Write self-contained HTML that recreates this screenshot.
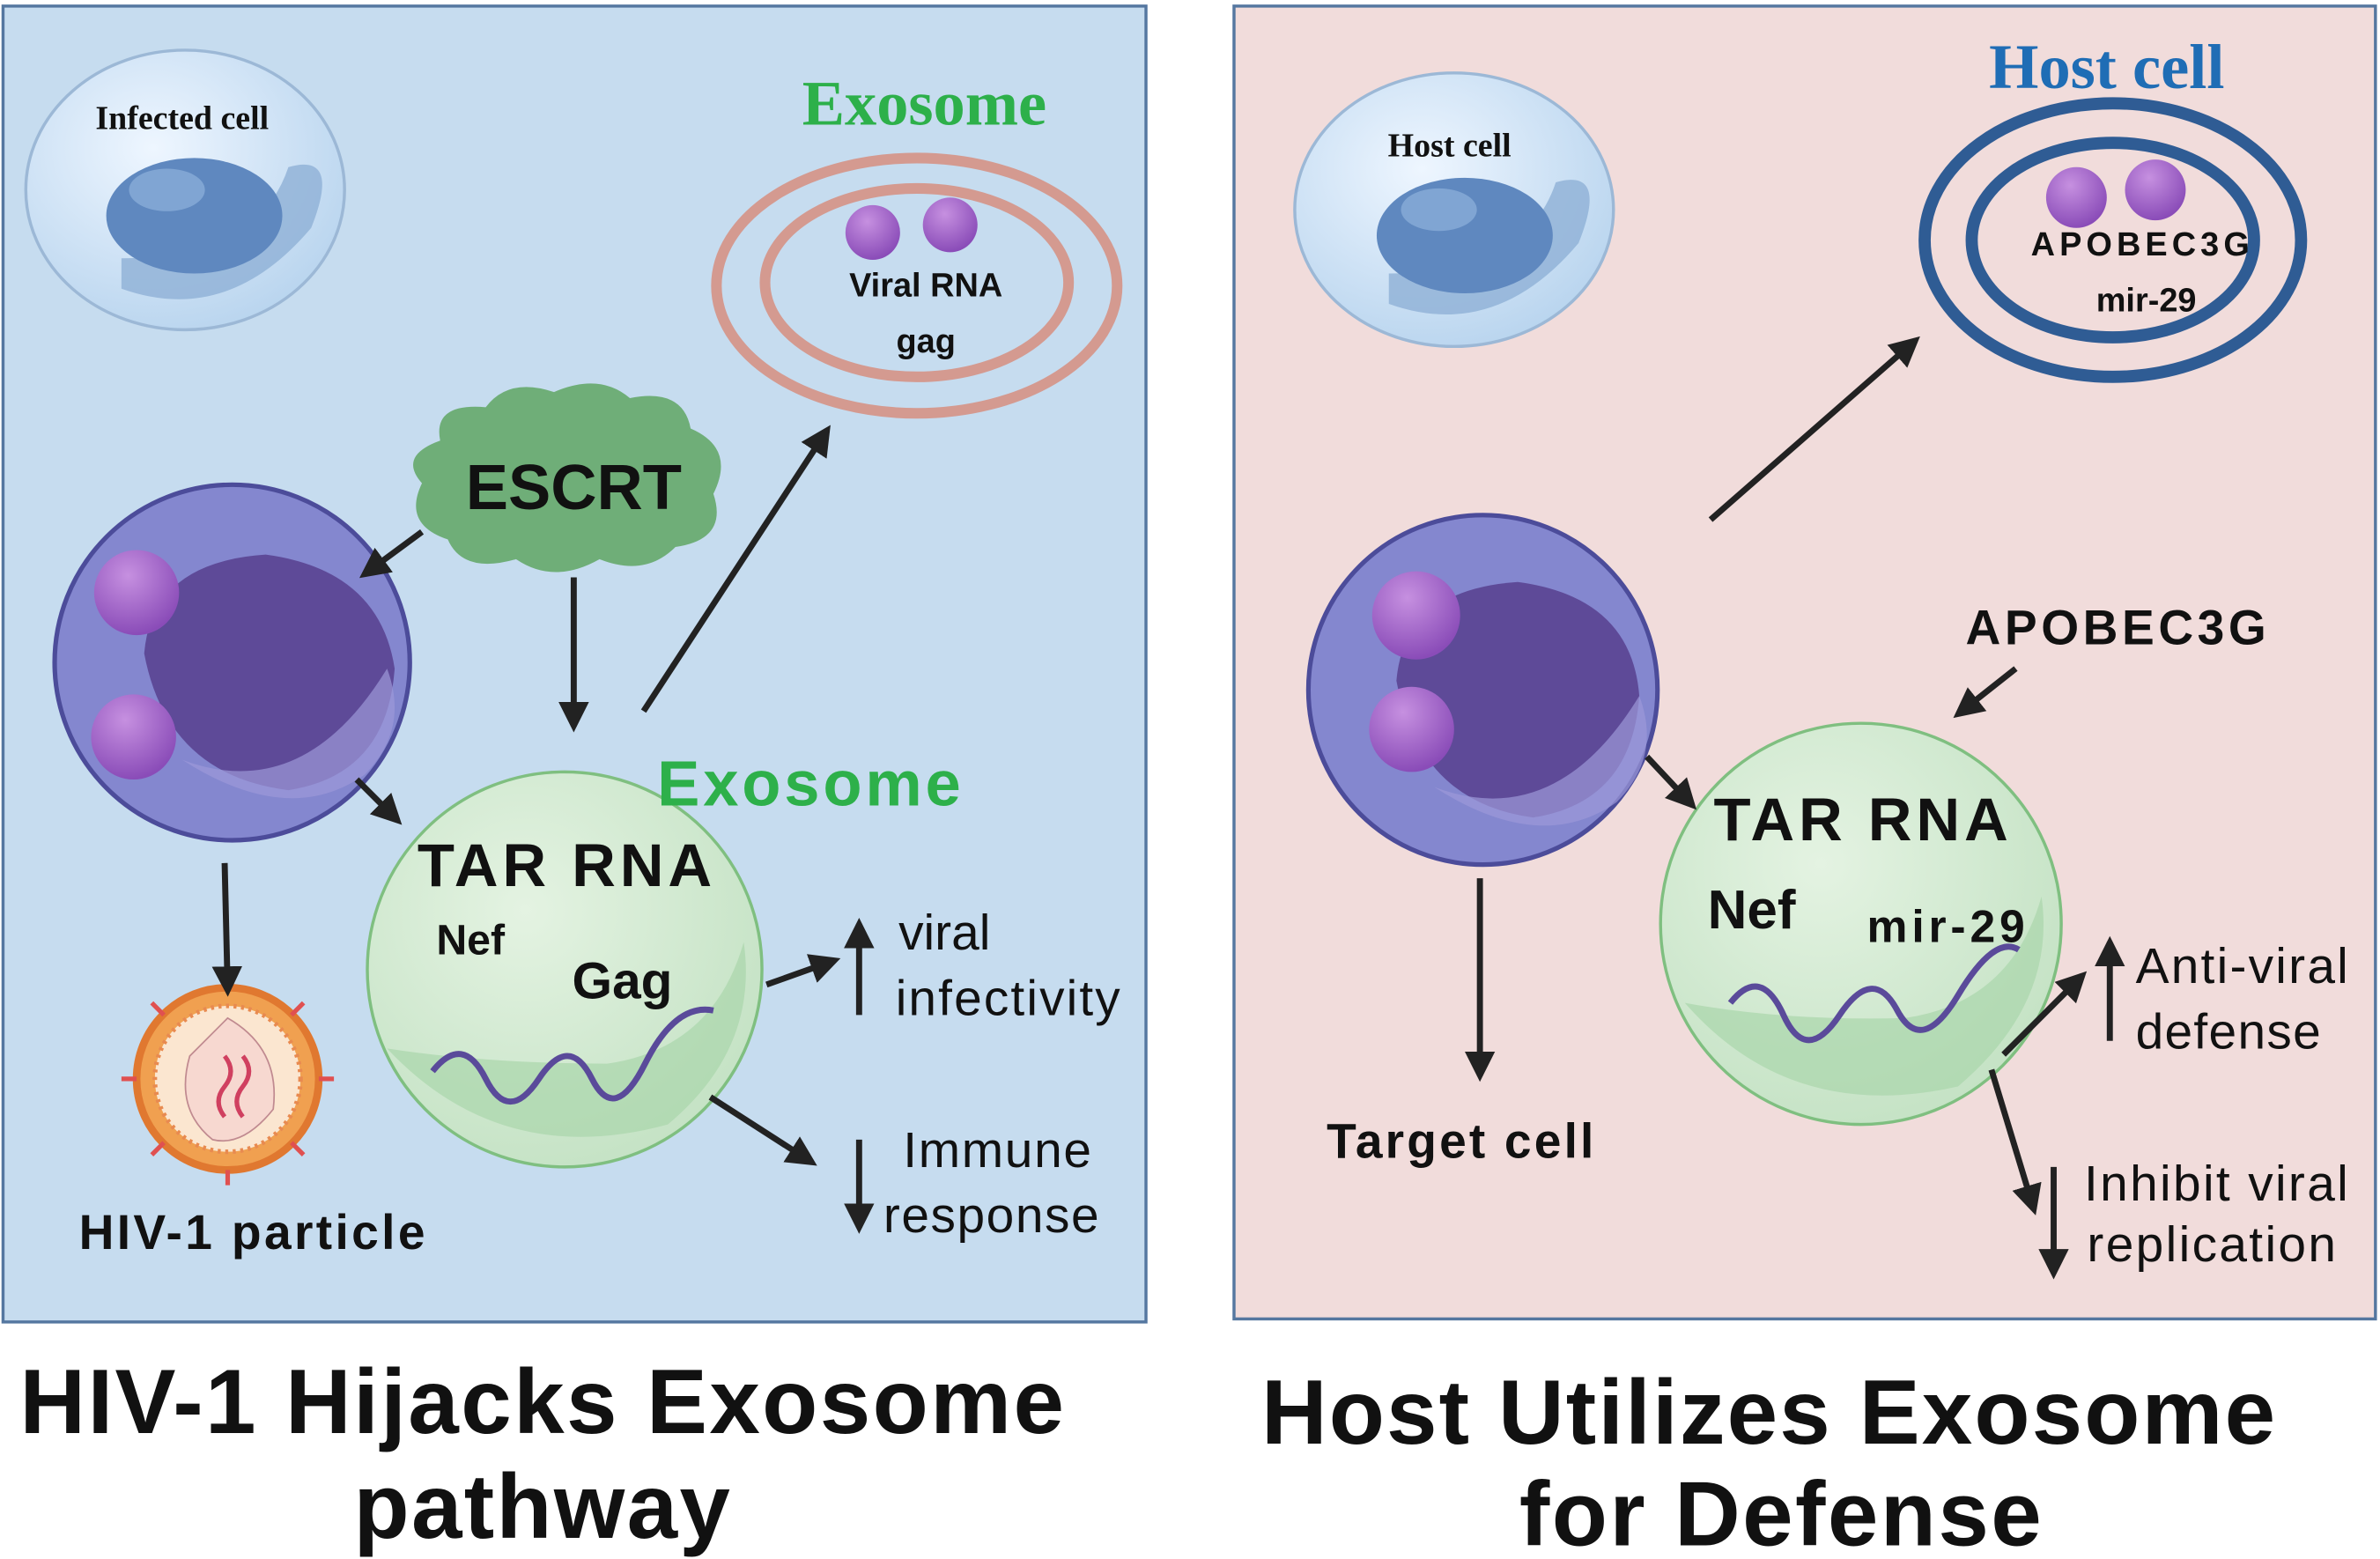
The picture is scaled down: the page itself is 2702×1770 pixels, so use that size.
<!DOCTYPE html>
<html><head><meta charset="utf-8"><style>
html,body{margin:0;padding:0;background:#fff}
svg{display:block}
</style></head><body>
<svg width="2702" height="1770" viewBox="0 0 1568 1026" preserveAspectRatio="none" xmlns="http://www.w3.org/2000/svg" font-family="Liberation Sans, Arial, sans-serif">
<defs>
<marker id="ar" viewBox="0 0 10 10" refX="8" refY="5" markerWidth="5" markerHeight="5" orient="auto"><path d="M0,0 L10,5 L0,10 z" fill="#222"/></marker>
<radialGradient id="gb" cx="0.4" cy="0.35" r="0.7"><stop offset="0" stop-color="#eef6ff"/><stop offset="1" stop-color="#b8d4ee"/></radialGradient>
<radialGradient id="gg" cx="0.4" cy="0.35" r="0.7"><stop offset="0" stop-color="#e4f3e2"/><stop offset="1" stop-color="#c4e2c4"/></radialGradient>
<radialGradient id="gp" cx="0.4" cy="0.3" r="0.7"><stop offset="0" stop-color="#c690e0"/><stop offset="1" stop-color="#8a4cb8"/></radialGradient>
</defs>
<rect x="0" y="0" width="1568" height="1026" fill="#fff"/>
<rect x="2" y="4" width="753" height="866" fill="#c6dcef" stroke="#5577a0" stroke-width="2"/>
<rect x="813" y="4" width="752" height="864" fill="#f1dcdb" stroke="#5577a0" stroke-width="2"/>

<!-- Infected cell -->
<ellipse cx="122" cy="125" rx="105" ry="92" fill="url(#gb)" stroke="#9cb8d6" stroke-width="2"/>
<path d="M80,190 Q150,215 205,150 Q225,100 190,110 Q170,170 80,170z" fill="#8fb0d6" opacity="0.8"/>
<ellipse cx="128" cy="142" rx="58" ry="38" fill="#5f88bf"/>
<ellipse cx="110" cy="125" rx="25" ry="14" fill="#8fb2dc" opacity="0.7"/>
<text x="120" y="85" font-family="Liberation Serif, serif" font-weight="bold" font-size="22" text-anchor="middle" fill="#111">Infected cell</text>

<!-- Exosome left top -->
<ellipse cx="604" cy="188" rx="132" ry="84" fill="none" stroke="#d49a90" stroke-width="7"/>
<ellipse cx="604" cy="186" rx="100" ry="62" fill="none" stroke="#d49a90" stroke-width="7"/>
<circle cx="575" cy="153" r="18" fill="url(#gp)"/>
<circle cx="626" cy="148" r="18" fill="url(#gp)"/>
<text x="610" y="195" font-weight="bold" font-size="22" text-anchor="middle" fill="#111">Viral RNA</text>
<text x="610" y="232" font-weight="bold" font-size="22" text-anchor="middle" fill="#111">gag</text>
<text x="609" y="82" font-family="Liberation Serif, serif" font-weight="bold" font-size="42" text-anchor="middle" fill="#2db04a">Exosome</text>

<!-- ESCRT cloud -->
<path d="M290,290 Q285,265 320,268 Q335,248 365,258 Q395,245 415,262 Q450,255 455,282 Q485,295 470,325 Q480,355 445,360 Q425,380 395,368 Q365,385 340,368 Q305,378 295,355 Q265,345 278,318 Q262,300 290,290z" fill="#6fae78"/>
<text x="378" y="335" font-weight="bold" font-size="42" text-anchor="middle" fill="#111">ESCRT</text>

<!-- left big cell -->
<circle cx="153" cy="436" r="117" fill="#8487cf" stroke="#4c4c9a" stroke-width="3"/>
<path d="M95,430 Q100,370 175,365 Q250,375 260,440 Q255,510 190,520 Q110,510 95,430z" fill="#5e4a98"/>
<path d="M120,500 Q200,530 255,440 Q270,480 240,510 Q190,545 120,500z" fill="#9c98d8" opacity="0.7"/>
<circle cx="90" cy="390" r="28" fill="url(#gp)"/>
<circle cx="88" cy="485" r="28" fill="url(#gp)"/>

<!-- HIV particle -->
<circle cx="150" cy="710" r="60" fill="#f0a050" stroke="#e07830" stroke-width="5"/>
<circle cx="150" cy="710" r="48" fill="#fbe6d0" stroke="#e88a50" stroke-width="3" stroke-dasharray="2,3"/>
<path d="M150,670 Q185,690 180,730 Q160,755 140,750 Q115,730 125,695z" fill="#f7d8d0" stroke="#c08a90"/>
<path d="M148,695 q8,10 0,20 q-8,10 0,20 M160,695 q8,10 0,20 q-8,10 0,20" stroke="#d04060" stroke-width="3" fill="none"/>
<g stroke="#e05050" stroke-width="3">
<line x1="150" y1="650" x2="150" y2="640"/><line x1="150" y1="770" x2="150" y2="780"/><line x1="90" y1="710" x2="80" y2="710"/><line x1="210" y1="710" x2="220" y2="710"/>
<line x1="108" y1="668" x2="100" y2="660"/><line x1="192" y1="668" x2="200" y2="660"/><line x1="108" y1="752" x2="100" y2="760"/><line x1="192" y1="752" x2="200" y2="760"/>
</g>
<text x="166" y="822" font-weight="bold" font-size="32" text-anchor="middle" fill="#111" textLength="228">HIV-1 particle</text>

<!-- left exosome green -->
<circle cx="372" cy="638" r="130" fill="url(#gg)" stroke="#7fbf80" stroke-width="2"/>
<path d="M255,690 Q330,770 440,740 Q500,690 490,620 Q470,690 400,700 Q320,700 255,690z" fill="#a9d6ab" opacity="0.7"/>
<path d="M285,705 Q305,680 320,710 T355,710 T390,710 T425,700 T470,665" stroke="#5a4a9a" stroke-width="4" fill="none"/>
<text x="372" y="583" font-weight="bold" font-size="40" text-anchor="middle" fill="#111" textLength="194">TAR RNA</text>
<text x="310" y="628" font-weight="bold" font-size="28" text-anchor="middle" fill="#111">Nef</text>
<text x="410" y="657" font-weight="bold" font-size="34" text-anchor="middle" fill="#111">Gag</text>
<text x="533" y="530" font-weight="bold" font-size="42" text-anchor="middle" fill="#2db04a" textLength="200">Exosome</text>

<g stroke="#222" stroke-width="4" fill="none" marker-end="url(#ar)">
<line x1="278" y1="350" x2="240" y2="378"/>
<line x1="378" y1="380" x2="378" y2="478"/>
<line x1="424" y1="468" x2="545" y2="283"/>
<line x1="235" y1="513" x2="262" y2="540"/>
<line x1="148" y1="568" x2="150" y2="652"/>
<line x1="505" y1="648" x2="550" y2="632"/>
<line x1="468" y1="722" x2="535" y2="765"/>
<line x1="566" y1="668" x2="566" y2="608"/>
<line x1="566" y1="750" x2="566" y2="808"/>
</g>
<text x="592" y="625" font-size="33" fill="#111">viral</text>
<text x="590" y="668" font-size="33" fill="#111" textLength="148">infectivity</text>
<text x="595" y="768" font-size="33" fill="#111" textLength="124">Immune</text>
<text x="582" y="811" font-size="33" fill="#111" textLength="142">response</text>

<!-- RIGHT: Host cell small -->
<ellipse cx="958" cy="138" rx="105" ry="90" fill="url(#gb)" stroke="#9cb8d6" stroke-width="2"/>
<path d="M915,200 Q985,225 1040,160 Q1060,110 1025,120 Q1005,180 915,180z" fill="#8fb0d6" opacity="0.8"/>
<ellipse cx="965" cy="155" rx="58" ry="38" fill="#5f88bf"/>
<ellipse cx="948" cy="138" rx="25" ry="14" fill="#8fb2dc" opacity="0.7"/>
<text x="955" y="103" font-family="Liberation Serif, serif" font-weight="bold" font-size="22" text-anchor="middle" fill="#111">Host cell</text>

<text x="1388" y="58" font-family="Liberation Serif, serif" font-weight="bold" font-size="42" text-anchor="middle" fill="#1f6db5">Host cell</text>
<ellipse cx="1392" cy="158" rx="124" ry="90" fill="none" stroke="#2f5c94" stroke-width="8"/>
<ellipse cx="1392" cy="158" rx="93" ry="64" fill="none" stroke="#2f5c94" stroke-width="8"/>
<circle cx="1368" cy="130" r="20" fill="url(#gp)"/>
<circle cx="1420" cy="125" r="20" fill="url(#gp)"/>
<text x="1410" y="168" font-weight="bold" font-size="22" text-anchor="middle" fill="#111" textLength="144">APOBEC3G</text>
<text x="1414" y="205" font-weight="bold" font-size="22" text-anchor="middle" fill="#111">mir-29</text>

<!-- right big cell -->
<circle cx="977" cy="454" r="115" fill="#8487cf" stroke="#4c4c9a" stroke-width="3"/>
<path d="M920,448 Q925,388 1000,383 Q1075,393 1080,458 Q1075,528 1010,538 Q935,528 920,448z" fill="#5e4a98"/>
<path d="M945,518 Q1025,548 1080,458 Q1095,498 1065,528 Q1015,563 945,518z" fill="#9c98d8" opacity="0.7"/>
<circle cx="933" cy="405" r="29" fill="url(#gp)"/>
<circle cx="930" cy="480" r="28" fill="url(#gp)"/>

<!-- right exosome -->
<circle cx="1226" cy="608" r="132" fill="url(#gg)" stroke="#7fbf80" stroke-width="2"/>
<path d="M1110,660 Q1180,740 1290,715 Q1355,660 1345,590 Q1325,660 1255,670 Q1175,672 1110,660z" fill="#a9d6ab" opacity="0.7"/>
<path d="M1140,660 Q1160,635 1175,668 T1212,668 T1250,665 T1290,655 T1330,625" stroke="#5a4a9a" stroke-width="4" fill="none"/>
<text x="1226" y="553" font-weight="bold" font-size="40" text-anchor="middle" fill="#111" textLength="194">TAR RNA</text>
<text x="1154" y="611" font-weight="bold" font-size="36" text-anchor="middle" fill="#111">Nef</text>
<text x="1282" y="620" font-weight="bold" font-size="30" text-anchor="middle" fill="#111" textLength="104">mir-29</text>

<text x="1394" y="424" font-weight="bold" font-size="32" text-anchor="middle" fill="#111" textLength="198">APOBEC3G</text>
<text x="962" y="762" font-weight="bold" font-size="32" text-anchor="middle" fill="#111" textLength="176">Target cell</text>

<g stroke="#222" stroke-width="4" fill="none" marker-end="url(#ar)">
<line x1="1127" y1="342" x2="1262" y2="224"/>
<line x1="1085" y1="498" x2="1115" y2="530"/>
<line x1="1328" y1="440" x2="1290" y2="470"/>
<line x1="975" y1="578" x2="975" y2="708"/>
<line x1="1320" y1="694" x2="1372" y2="642"/>
<line x1="1390" y1="685" x2="1390" y2="620"/>
<line x1="1312" y1="704" x2="1340" y2="796"/>
<line x1="1353" y1="768" x2="1353" y2="838"/>
</g>
<text x="1407" y="647" font-size="33" fill="#111" textLength="140">Anti-viral</text>
<text x="1407" y="690" font-size="33" fill="#111" textLength="122">defense</text>
<text x="1373" y="790" font-size="33" fill="#111" textLength="174">Inhibit viral</text>
<text x="1375" y="830" font-size="33" fill="#111" textLength="164">replication</text>

<!-- titles -->
<text x="357" y="943" font-weight="bold" font-size="60" text-anchor="middle" fill="#111" textLength="688">HIV-1 Hijacks Exosome</text>
<text x="357" y="1012" font-weight="bold" font-size="60" text-anchor="middle" fill="#111" textLength="248">pathway</text>
<text x="1165" y="950" font-weight="bold" font-size="60" text-anchor="middle" fill="#111" textLength="668">Host Utilizes Exosome</text>
<text x="1173" y="1017" font-weight="bold" font-size="60" text-anchor="middle" fill="#111" textLength="344">for Defense</text>
</svg>
</body></html>
